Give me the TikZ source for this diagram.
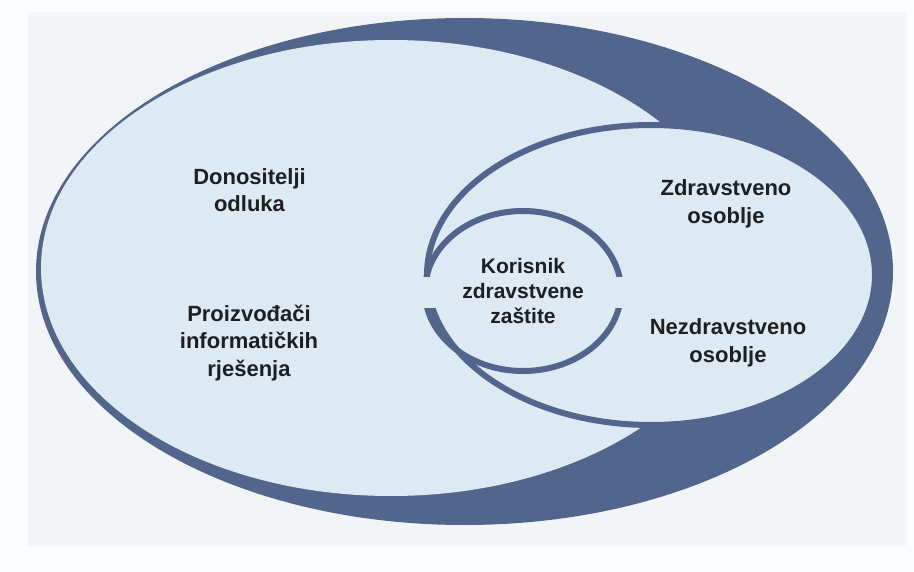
\documentclass[tikz,border=0pt]{standalone}
\usepackage{fontspec}
\setmainfont{Liberation Sans}
\usepackage{xcolor}
\usepackage{tikz}
\definecolor{ringblue}{HTML}{52658D}
\definecolor{paleblue}{HTML}{DDEAF4}
\definecolor{panelgray}{HTML}{F2F5F8}
\definecolor{pagewhite}{HTML}{FAFBFC}
\definecolor{inkgray}{HTML}{1F1F1F}

\begin{document}
\begin{tikzpicture}[x=1pt,y=-1pt,
  ring/.style={draw=ringblue,line width=6pt},
  gapfill/.style={fill=paleblue},
  lbl/.style={align=center,text=inkgray,font=\bfseries\fontsize{22}{27.5}\selectfont,inner sep=0pt},
  core/.style={lbl,font=\bfseries\fontsize{21}{25}\selectfont}]
\useasboundingbox (0,0) rectangle (914,572);
\fill[pagewhite] (0,0) rectangle (914,572);
\fill[panelgray] (28,12) rectangle (906,546);
% outer crescent and left field
\fill[ringblue] (464.5,271.5) ellipse[x radius=428.5,y radius=253.5];
\fill[paleblue] (391,268) ellipse[x radius=350,y radius=228];
% staff field and core
\filldraw[ring,fill=paleblue] (651,275) ellipse[x radius=224,y radius=150];
\draw[ring] (523,291) ellipse[x radius=98,y radius=80];
\fill[gapfill] (410,277) rectangle (447,308);
\fill[gapfill] (600,277) rectangle (638,308);
% labels
\node[lbl] (don) at (249.5,190) {Donositelji\\odluka};
\node[lbl] (pro) at (249,343) {Proizvođači\\informatičkih\\rješenja};
\node[lbl] (zdr) at (726,204) {Zdravstveno\\osoblje};
\node[lbl] (nez) at (728,343) {Nezdravstveno\\osoblje};
\node[core] (kor) at (523,291) {Korisnik\\zdravstvene\\zaštite};
\end{tikzpicture}
\end{document}
